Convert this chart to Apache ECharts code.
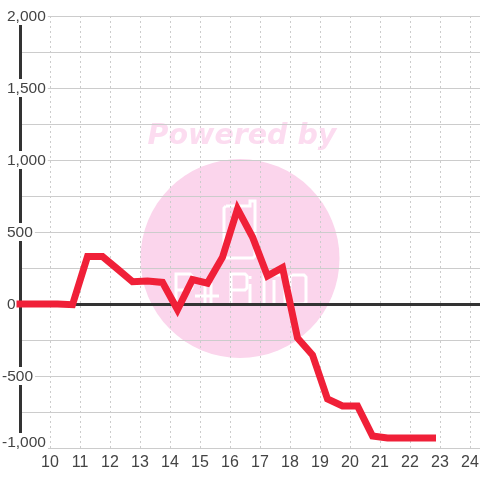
<!DOCTYPE html>
<html>
<head>
<meta charset="utf-8">
<style>
  html, body { margin: 0; padding: 0; background: #fff; }
  #chart { width: 480px; height: 480px; }
</style>
<script src="https://cdn.jsdelivr.net/npm/echarts@6/dist/echarts.min.js"></script>
</head>
<body>
<div id="chart"></div>
<script>
const hours = [9, 9.75, 10.25, 10.75, 11.25, 11.75, 12.25, 12.75, 13.25, 13.75, 14.25, 14.75, 15.25, 15.75,
  16.25, 16.75, 17.25, 17.75, 18.25, 18.75, 19.25, 19.75, 20.25, 20.75, 21.25, 21.75, 22.25, 22.75]
const values = [0, 0, 0, -5, 330, 330, 243, 155, 160, 150, -40, 170, 145, 325,
  660, 465, 195, 253, -236, -354, -660, -708, -708, -917, -930, -930, -930, -930]
const xTickLabels = ['10', '11', '12', '13', '14', '15', '16', '17', '18', '19', '20', '21', '22', '23', '24']
const yTickLabels = { '-1000': '-1,000', '-500': '-500', '0': '0', '500': '500', '1000': '1,000', '1500': '1,500', '2000': '2,000' }

const chart = echarts.init(document.getElementById('chart'))

const textColor = '#444'
const gridColor = '#ccc'
const pink = '#fbd5ec'

// white watermark outlines
const logoLine = points => ({
  type: 'polyline', z: -1, silent: true,
  shape: { points },
  style: { fill: 'none', stroke: '#fff', lineWidth: 3 }
})

chart.setOption({
  animation: false,
  backgroundColor: '#fff',
  grid: { left: 20, right: 0, top: 16, bottom: 32, outerBoundsMode: 'none' },
  graphic: {
    elements: [
      { type: 'circle', z: -2, silent: true, shape: { cx: 240, cy: 258.5, r: 99.5 }, style: { fill: pink } },
      {
        type: 'text', z: -2, silent: true, x: 242, y: 136.5,
        style: {
          text: 'Powered by', fill: '#fcdcf0', align: 'center', verticalAlign: 'middle',
          font: 'italic bold 28.5px "DejaVu Sans"'
        }
      },
      logoLine([[226, 206], [250, 206], [250, 201], [255, 201], [255, 256], [253, 258], [226, 258], [224, 256], [224, 208], [226, 206]]),
      logoLine([[176, 304], [176, 274], [190, 274], [192, 276], [192, 288], [190, 290], [176, 290]]),
      logoLine([[205, 304], [205, 283]]),
      logoLine([[195, 296], [219, 296]]),
      logoLine([[211, 283], [211, 304]]),
      logoLine([[231, 304], [231, 274], [245, 274], [247, 276], [247, 288], [245, 290], [231, 290]]),
      logoLine([[250, 284], [250, 304]]),
      logoLine([[250, 276], [250, 279]]),
      logoLine([[264, 304], [264, 275], [285, 275], [285, 304]]),
      logoLine([[274, 280], [274, 304]]),
      logoLine([[292, 275], [304, 275], [306, 277], [306, 302], [304, 304], [292, 304], [290, 302], [290, 277], [292, 275]])
    ]
  },
  xAxis: [
    {
      type: 'value',
      min: 9,
      max: 9 + 460 / 30,
      interval: 1,
      axisLine: { show: false, onZero: false },
      axisTick: { show: false },
      splitLine: { show: true, lineStyle: { color: gridColor, type: [2, 3], width: 1 } },
      axisLabel: {
        color: textColor,
        fontSize: 16,
        fontFamily: 'Liberation Sans',
        margin: 7,
        showMinLabel: false,
        hideOverlap: false,
        formatter: v => (xTickLabels.includes(String(v)) ? String(v) : '')
      }
    },
    {
      // heavy zero line
      type: 'value',
      min: 9,
      max: 9 + 460 / 30,
      axisLine: { show: true, onZero: true, lineStyle: { color: '#333', width: 3 } },
      axisTick: { show: false },
      axisLabel: { show: false },
      splitLine: { show: false }
    }
  ],
  yAxis: {
    type: 'value',
    min: -1000,
    max: 2000,
    interval: 250,
    axisLine: { show: true, onZero: false, lineStyle: { color: '#333', width: 3 } },
    axisTick: { show: false },
    splitLine: { show: true, lineStyle: { color: gridColor, width: 1 } },
    axisLabel: {
      align: 'left',
      margin: 18,
      verticalAlignMinLabel: 'bottom',
      formatter: v => {
        const s = yTickLabels[String(v)]
        if (!s) return ''
        return v < 0 ? `{neg|${s}}` : `{pos|${s}}`
      },
      rich: {
        neg: {
          color: textColor, fontSize: 15.5, fontFamily: 'Liberation Sans',
          backgroundColor: '#fff', lineHeight: 12, padding: [2, 2, 0, 0]
        },
        pos: {
          color: textColor, fontSize: 15.5, fontFamily: 'Liberation Sans',
          backgroundColor: '#fff', lineHeight: 12, padding: [2, 2, 0, 5]
        }
      }
    }
  },
  series: [
    {
      type: 'line',
      xAxisIndex: 0,
      data: hours.map((h, i) => [h, values[i]]),
      symbol: 'none',
      clip: false,
      silent: true,
      lineStyle: { color: '#f02038', width: 7, cap: 'square', join: 'miter' }
    }
  ]
})
</script>
</body>
</html>
